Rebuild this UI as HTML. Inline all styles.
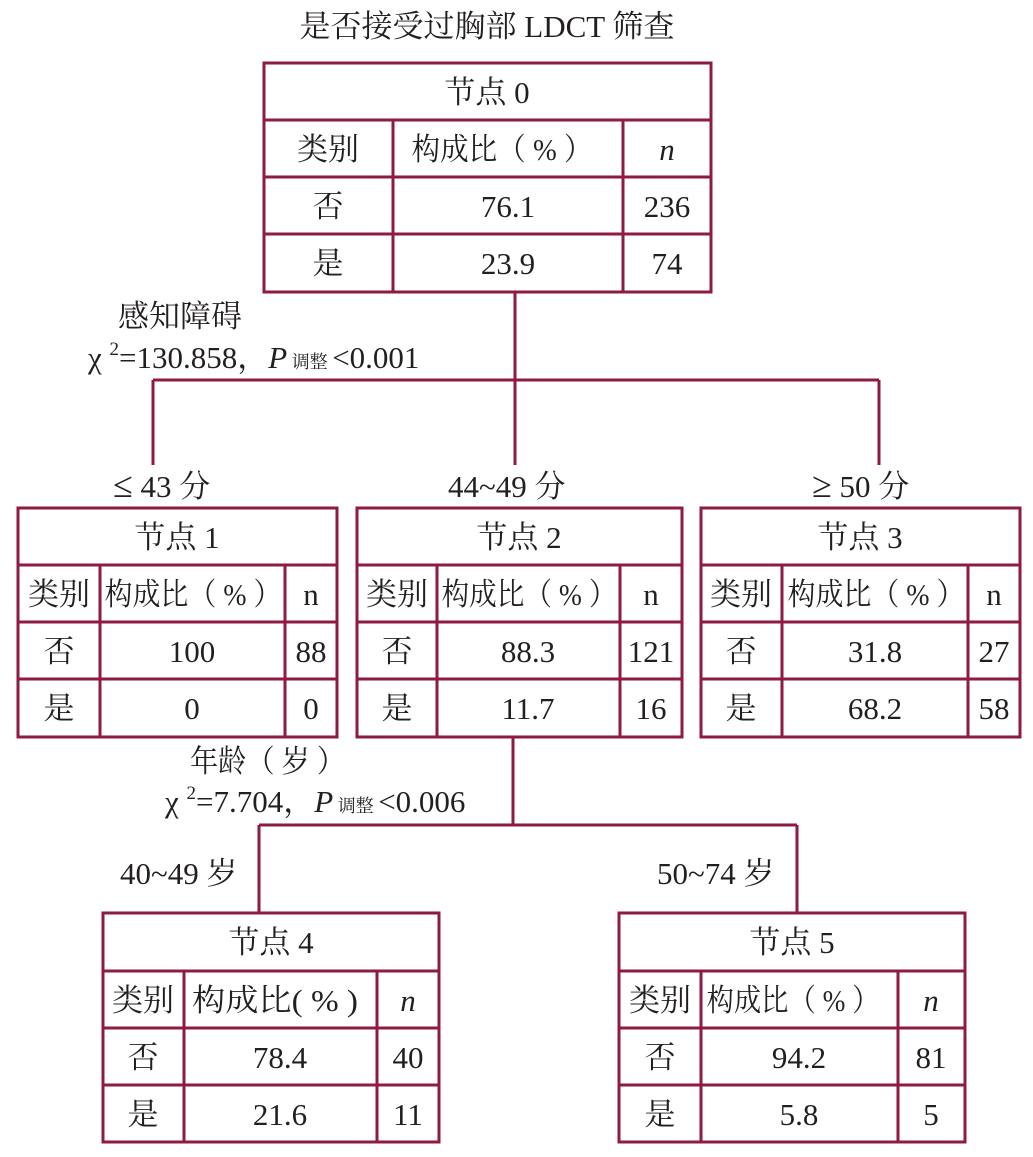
<!DOCTYPE html>
<html><head><meta charset="utf-8"><style>
html,body{margin:0;padding:0;background:#fff;}
svg text{font-family:"Liberation Serif","Noto Serif CJK SC",serif;fill:#231f20;font-size:31px;}
</style></head><body>
<svg width="1033" height="1152" xmlns="http://www.w3.org/2000/svg">
<g stroke="#8e1a45" stroke-width="3" fill="none">
<path d="M515 292V380M153 380H879M153 380V465M515 380V465M879 380V465"/>
<path d="M513 737V825M259 825H797M259 825V912M797 825V912"/>
<rect x="264" y="63" width="447" height="229"/>
<path d="M264 120H711M264 177H711M264 234H711M393 120V292M623 120V292"/>
<rect x="18" y="508" width="319" height="229"/>
<path d="M18 565H337M18 622H337M18 679H337M100 565V737M285 565V737"/>
<rect x="357" y="508" width="325" height="229"/>
<path d="M357 565H682M357 622H682M357 679H682M437 565V737M620 565V737"/>
<rect x="701" y="508" width="319" height="229"/>
<path d="M701 565H1020M701 622H1020M701 679H1020M782 565V737M968 565V737"/>
<rect x="103" y="913" width="336" height="229"/>
<path d="M103 971H439M103 1028H439M103 1085H439M184 971V1142M377 971V1142"/>
<rect x="619" y="913" width="346" height="229"/>
<path d="M619 971H965M619 1028H965M619 1085H965M701 971V1142M898 971V1142"/>
</g>
<g text-anchor="middle">
<text x="487" y="37" font-size="32">是否接受过胸部 LDCT 筛查</text>
<text x="487" y="103">节点 0</text>
<text x="328" y="160" font-size="29">类别</text><text x="502" y="160" textLength="181" lengthAdjust="spacingAndGlyphs">构成比（ % ）</text><text x="667" y="160" font-style="italic">n</text>
<text x="328" y="217" font-size="29">否</text><text x="508" y="217">76.1</text><text x="667" y="217">236</text>
<text x="328" y="274" font-size="29">是</text><text x="508" y="274">23.9</text><text x="667" y="274">74</text>
<text x="177" y="548">节点 1</text>
<text x="59" y="605" font-size="29">类别</text><text x="193" y="605" textLength="177" lengthAdjust="spacingAndGlyphs">构成比（ % ）</text><text x="311" y="605">n</text>
<text x="59" y="662" font-size="29">否</text><text x="192" y="662">100</text><text x="311" y="662">88</text>
<text x="59" y="719" font-size="29">是</text><text x="192" y="719">0</text><text x="311" y="719">0</text>
<text x="519" y="548">节点 2</text>
<text x="397" y="605" font-size="29">类别</text><text x="529" y="605" textLength="175" lengthAdjust="spacingAndGlyphs">构成比（ % ）</text><text x="651" y="605">n</text>
<text x="397" y="662" font-size="29">否</text><text x="528" y="662">88.3</text><text x="651" y="662">121</text>
<text x="397" y="719" font-size="29">是</text><text x="528" y="719">11.7</text><text x="651" y="719">16</text>
<text x="860" y="548">节点 3</text>
<text x="741" y="605" font-size="29">类别</text><text x="876" y="605" textLength="177" lengthAdjust="spacingAndGlyphs">构成比（ % ）</text><text x="994" y="605">n</text>
<text x="741" y="662" font-size="29">否</text><text x="875" y="662">31.8</text><text x="994" y="662">27</text>
<text x="741" y="719" font-size="29">是</text><text x="875" y="719">68.2</text><text x="994" y="719">58</text>
<text x="271" y="953">节点 4</text>
<text x="275" y="1011" textLength="166" lengthAdjust="spacingAndGlyphs">构成比( % )</text><text x="143" y="1011" font-size="29">类别</text><text x="408" y="1011" font-style="italic">n</text>
<text x="143" y="1068" font-size="29">否</text><text x="280" y="1068">78.4</text><text x="408" y="1068">40</text>
<text x="143" y="1125" font-size="29">是</text><text x="280" y="1125">21.6</text><text x="408" y="1125">11</text>
<text x="792" y="953">节点 5</text>
<text x="660" y="1011" font-size="29">类别</text><text x="793" y="1011" textLength="173" lengthAdjust="spacingAndGlyphs">构成比（ % ）</text><text x="931" y="1011" font-style="italic">n</text>
<text x="660" y="1068" font-size="29">否</text><text x="799" y="1068">94.2</text><text x="931" y="1068">81</text>
<text x="660" y="1125" font-size="29">是</text><text x="799" y="1125">5.8</text><text x="931" y="1125">5</text>
</g>
<text x="118" y="327" font-size="30">感知障碍</text>
<text x="88" y="368">χ <tspan font-size="19" dy="-13">2</tspan><tspan dy="13">=130.858，</tspan><tspan font-style="italic">P</tspan><tspan font-size="18"> 调整 </tspan>&lt;0.001</text>
<text x="113" y="497"><tspan font-size="36">≤</tspan> 43 分</text>
<text x="448" y="497">44~49 分</text>
<text x="812" y="497"><tspan font-size="36">≥</tspan> 50 分</text>
<text x="190" y="772" textLength="155" lengthAdjust="spacingAndGlyphs">年龄（ 岁 ）</text>
<text x="165" y="812">χ <tspan font-size="19" dy="-13">2</tspan><tspan dy="13">=7.704，</tspan><tspan font-style="italic">P</tspan><tspan font-size="18"> 调整 </tspan>&lt;0.006</text>
<text x="120" y="884">40~49 岁</text>
<text x="657" y="884">50~74 岁</text>
</svg>
</body></html>
